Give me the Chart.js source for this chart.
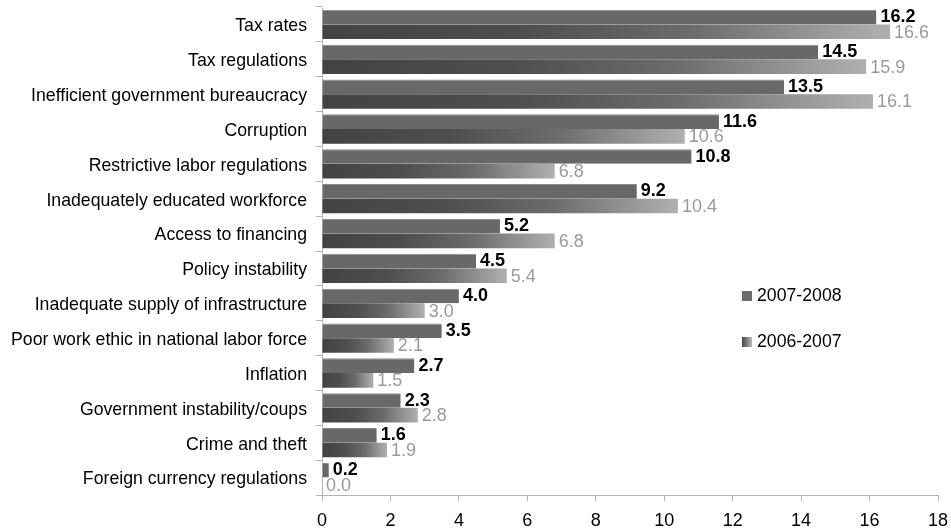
<!DOCTYPE html>
<html>
<head>
<meta charset="utf-8">
<script src="https://cdn.jsdelivr.net/npm/chart.js@4/dist/chart.umd.min.js"></script>
<style>
  html, body { margin: 0; padding: 0; background: #fff; }
  #wrap { width: 951px; height: 532px; }
</style>
</head>
<body>
<div id="wrap"><canvas id="obstacles"></canvas></div>
<script>
const categories = [
    "Tax rates",
    "Tax regulations",
    "Inefficient government bureaucracy",
    "Corruption",
    "Restrictive labor regulations",
    "Inadequately educated workforce",
    "Access to financing",
    "Policy instability",
    "Inadequate supply of infrastructure",
    "Poor work ethic in national labor force",
    "Inflation",
    "Government instability/coups",
    "Crime and theft",
    "Foreign currency regulations"
];

const values_2007_2008 = [16.2, 14.5, 13.5, 11.6, 10.8, 9.2, 5.2, 4.5, 4.0, 3.5, 2.7, 2.3, 1.6, 0.2];
const values_2006_2007 = [16.6, 15.9, 16.1, 10.6, 6.8, 10.4, 6.8, 5.4, 3.0, 2.1, 1.5, 2.8, 1.9, 0.0];

const series_names = ["2007-2008", "2006-2007"];
const x_ticks = [0, 2, 4, 6, 8, 10, 12, 14, 16, 18];

const FONT = "'Liberation Sans', Arial, sans-serif";

// each 2006-2007 bar fades from dark to light along its own length
const fadeFill = (ctx) => {
    const chart = ctx.chart;
    const xs = chart.scales.x;
    if (!xs || !ctx.parsed) return '#666';
    const x0 = xs.getPixelForValue(0);
    const x1 = xs.getPixelForValue(ctx.parsed.x);
    if (!Number.isFinite(x0) || !Number.isFinite(x1)) return '#666';
    if (x1 - x0 < 1) return '#555';
    const g = chart.ctx.createLinearGradient(x0, 0, x1, 0);
    g.addColorStop(0, '#434343');
    g.addColorStop(0.35, '#4e4e4e');
    g.addColorStop(0.65, '#6c6c6c');
    g.addColorStop(1, '#b0b0b0');
    return g;
};

const valueLabels = {
    id: 'valueLabels',
    afterDatasetsDraw(chart) {
        const ctx = chart.ctx;
        ctx.save();
        ctx.textBaseline = 'middle';
        ctx.textAlign = 'left';
        chart.data.datasets.forEach((ds, di) => {
            const meta = chart.getDatasetMeta(di);
            meta.data.forEach((bar, i) => {
                const v = ds.data[i];
                if (di === 0) {
                    ctx.font = "bold 18px " + FONT;
                    ctx.fillStyle = '#000';
                    ctx.fillText(v.toFixed(1), bar.x + 4, bar.y);
                } else {
                    ctx.font = "18px " + FONT;
                    ctx.fillStyle = '#9a9a9a';
                    ctx.fillText(v.toFixed(1), bar.x + 4, bar.y + 1);
                }
            });
        });
        ctx.restore();
    }
};

const sideLegend = {
    id: 'sideLegend',
    afterDraw(chart) {
        const ctx = chart.ctx;
        ctx.save();
        ctx.font = "17.7px " + FONT;
        ctx.textBaseline = 'middle';
        // solid swatch
        ctx.fillStyle = '#6a6a6a';
        ctx.fillRect(742, 291, 10, 10);
        // faded swatch
        const g = ctx.createLinearGradient(742, 0, 752, 0);
        g.addColorStop(0, '#444');
        g.addColorStop(1, '#bbb');
        ctx.fillStyle = g;
        ctx.fillRect(742, 337, 10, 10);
        ctx.fillStyle = '#000';
        ctx.fillText(series_names[0], 757, 296);
        ctx.fillText(series_names[1], 757, 342);
        ctx.restore();
    }
};

document.addEventListener('DOMContentLoaded', () => {
    const ctx = document.getElementById('obstacles').getContext('2d');
    new Chart(ctx, {
        type: 'bar',
        data: {
            labels: categories,
            datasets: [
                {
                    label: series_names[0],
                    data: values_2007_2008,
                    backgroundColor: '#686868',
                    borderColor: '#8c8c8c',
                    borderWidth: { top: 1, right: 0, bottom: 0, left: 0 },
                    borderSkipped: false,
                    categoryPercentage: 0.84,
                    barPercentage: 1.0
                },
                {
                    label: series_names[1],
                    data: values_2006_2007,
                    backgroundColor: fadeFill,
                    borderWidth: 0,
                    categoryPercentage: 0.84,
                    barPercentage: 1.0
                }
            ]
        },
        options: {
            indexAxis: 'y',
            responsive: true,
            maintainAspectRatio: false,
            animation: false,
            layout: { padding: { top: 7, right: 13, bottom: 0, left: 0 } },
            plugins: {
                legend: { display: false },
                tooltip: { enabled: false }
            },
            scales: {
                x: {
                    min: 0,
                    max: 18,
                    afterBuildTicks: (axis) => {
                        axis.ticks = x_ticks.map(v => ({ value: v }));
                    },
                    afterFit: (axis) => {
                        axis.height = 37;
                        axis.paddingLeft = 0;
                        axis.paddingRight = 0;
                    },
                    grid: {
                        drawOnChartArea: false,
                        tickLength: 6,
                        color: '#b4b4b4'
                    },
                    border: { color: '#b4b4b4', width: 1 },
                    ticks: {
                        color: '#000',
                        padding: 9,
                        maxRotation: 0,
                        font: { family: FONT, size: 18 }
                    }
                },
                y: {
                    afterFit: (axis) => {
                        axis.width = 322;
                        axis.paddingTop = 0;
                        axis.paddingBottom = 0;
                    },
                    grid: {
                        offset: true,
                        drawOnChartArea: false,
                        tickLength: 6,
                        color: '#b4b4b4'
                    },
                    border: { color: '#b4b4b4', width: 1 },
                    ticks: {
                        color: '#000',
                        padding: 9,
                        labelOffset: 2,
                        autoSkip: false,
                        font: { family: FONT, size: 17.7 }
                    }
                }
            }
        },
        plugins: [valueLabels, sideLegend]
    });
});
</script>
</body>
</html>
